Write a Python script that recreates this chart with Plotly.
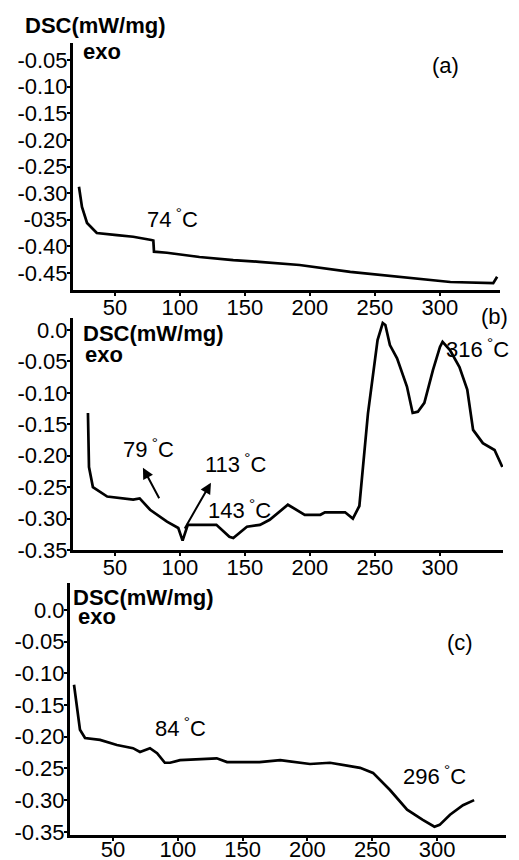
import plotly.graph_objects as go

# ---------------- data ----------------
a_temp = [22.3, 24.6, 28.5, 36, 51.5, 64, 78, 79.5, 80, 90, 115, 141, 161, 192, 231, 269, 308, 341, 344]
a_dsc = [-0.288, -0.326, -0.356, -0.375, -0.379, -0.382, -0.388, -0.389, -0.41, -0.412, -0.420, -0.426,
         -0.429, -0.435, -0.448, -0.458, -0.467, -0.469, -0.457]

b_temp = [29.2, 30, 33, 44, 64, 69, 77, 90, 98.7, 102, 106, 128, 138, 141, 151.5, 161.5, 169, 183, 196,
          208, 211.5, 227, 233, 238, 244.6, 252, 256, 258, 261.5, 267, 274.6, 279, 283, 288, 294.6, 300,
          302, 307.7, 315, 321, 325.5, 333, 342, 348]
b_dsc = [-0.132, -0.218, -0.25, -0.265, -0.27, -0.268, -0.286, -0.305, -0.315, -0.335, -0.31, -0.31,
         -0.329, -0.331, -0.313, -0.31, -0.302, -0.278, -0.294, -0.294, -0.29, -0.29, -0.30, -0.28,
         -0.133, -0.016, 0.011, 0.008, -0.024, -0.045, -0.09, -0.132, -0.13, -0.116, -0.064, -0.027,
         -0.019, -0.032, -0.059, -0.095, -0.159, -0.18, -0.191, -0.218]

c_temp = [19.9, 22.2, 24.5, 28.4, 40, 53, 65.4, 70.8, 78.5, 84, 90, 94, 101.7, 130, 138, 163, 179, 202,
          217.4, 240.6, 250.6, 263.7, 276.9, 289, 298, 302, 310, 320, 328.6]
c_dsc = [-0.118, -0.158, -0.189, -0.202, -0.205, -0.213, -0.218, -0.224, -0.218, -0.226, -0.241, -0.241,
         -0.237, -0.234, -0.24, -0.24, -0.237, -0.243, -0.241, -0.249, -0.257, -0.284, -0.315, -0.331,
         -0.342, -0.339, -0.323, -0.308, -0.3]

x_ticks = [50, 100, 150, 200, 250, 300]
a_yticks = [-0.05, -0.10, -0.15, -0.20, -0.25, -0.30, -0.35, -0.40, -0.45]
a_ylabels = ["-0.05", "-0.10", "-0.15", "-0.20", "-0.25", "-0.30", "-035", "-0.40", "-0.45"]
bc_yticks = [0.0, -0.05, -0.10, -0.15, -0.20, -0.25, -0.30, -0.35]
bc_ylabels = ["0.0", "-0.05", "-0.10", "-0.15", "-0.20", "-0.25", "-0.30", "-0.35"]

# ---------------- layout helpers ----------------
# the page body has an 8px default margin, so the figure is drawn 8px in from the corner
OFF = 8
W, H = 519 - OFF, 860 - OFF
FONT = "Liberation Sans, Arial, sans-serif"
FS = 22


def px(x):
    return (x - OFF) / W


def py(y):
    return 1 - (y - OFF) / H


fig = go.Figure()
fig.add_trace(go.Scatter(x=a_temp, y=a_dsc, mode="lines", line=dict(color="black", width=2.7),
                         xaxis="x", yaxis="y", showlegend=False))
fig.add_trace(go.Scatter(x=b_temp, y=b_dsc, mode="lines", line=dict(color="black", width=2.7),
                         xaxis="x2", yaxis="y2", showlegend=False))
fig.add_trace(go.Scatter(x=c_temp, y=c_dsc, mode="lines", line=dict(color="black", width=2.7),
                         xaxis="x3", yaxis="y3", showlegend=False))

common_x = dict(showline=True, linecolor="black", linewidth=3, showgrid=False, zeroline=False,
                ticks="outside", ticklen=3, tickwidth=2, tickcolor="black",
                tickvals=x_ticks, tickfont=dict(family=FONT, size=FS, color="black"),
                ticklabelstandoff=-7, automargin=False, fixedrange=True)
common_y = dict(showline=True, linecolor="black", linewidth=3, showgrid=False, zeroline=False,
                ticks="outside", ticklen=3, tickwidth=1.5, tickcolor="black",
                tickfont=dict(family=FONT, size=FS, color="black"),
                ticklabelstandoff=-5, automargin=False, fixedrange=True)

fig.update_layout(
    width=W, height=H, margin=dict(l=0, r=0, t=0, b=0),
    paper_bgcolor="white", plot_bgcolor="white",
    xaxis=dict(common_x, domain=[px(73), px(500)], range=[17.7, 346.2], anchor="y"),
    yaxis=dict(common_y, domain=[py(290), py(43)], range=[-0.482, -0.018], anchor="x",
               tickvals=a_yticks, ticktext=a_ylabels),
    xaxis2=dict(common_x, domain=[px(73), px(503)], range=[17.7, 348.5], anchor="y2"),
    yaxis2=dict(common_y, domain=[py(550), py(318)], range=[-0.35, 0.019], anchor="x2",
                tickvals=bc_yticks, ticktext=bc_ylabels),
    xaxis3=dict(common_x, domain=[px(70), px(506)], range=[16.8, 353.2], anchor="y3",
                ticklabelstandoff=-10),
    yaxis3=dict(common_y, domain=[py(835), py(583)], range=[-0.355, 0.0426], anchor="x3",
                tickvals=bc_yticks, ticktext=bc_ylabels),
)


def label(text, x, y, bold=False, xanchor="left"):
    fig.add_annotation(text=("<b>%s</b>" % text) if bold else text, x=px(x), y=py(y),
                       xref="paper", yref="paper", xanchor=xanchor, yanchor="middle",
                       showarrow=False, font=dict(family=FONT, size=FS, color="black"))


deg = "<sup> °</sup>C"
# panel a
label("DSC(mW/mg)", 23, 26, bold=True)
label("exo", 81, 52, bold=True)
label("(a)", 430, 66)
label("74" + deg, 145, 218)
# panel b
label("DSC(mW/mg)", 81, 333, bold=True)
label("exo", 83, 355, bold=True)
label("(b)", 510, 316, xanchor="right")
label("79" + deg, 121, 448)
label("113" + deg, 203, 463)
label("143" + deg, 206, 509)
label("316" + deg, 511, 348, xanchor="right")
# panel c
label("DSC(mW/mg)", 71, 597, bold=True)
label("exo", 76, 616, bold=True)
label("(c)", 445, 642)
label("84" + deg, 153, 727)
label("296" + deg, 401, 775)

# arrows in panel b (tail -> head), data coordinates
arrows = [((84.6, -0.270), (71.5, -0.219)), ((103.0, -0.318), (123.8, -0.243))]
for (tx, ty), (hx, hy) in arrows:
    fig.add_annotation(x=hx, y=hy, ax=tx, ay=ty, xref="x2", yref="y2", axref="x2", ayref="y2",
                       showarrow=True, arrowhead=2, arrowsize=1.1, arrowwidth=2, arrowcolor="black", text="")

fig.write_html("out.html")
